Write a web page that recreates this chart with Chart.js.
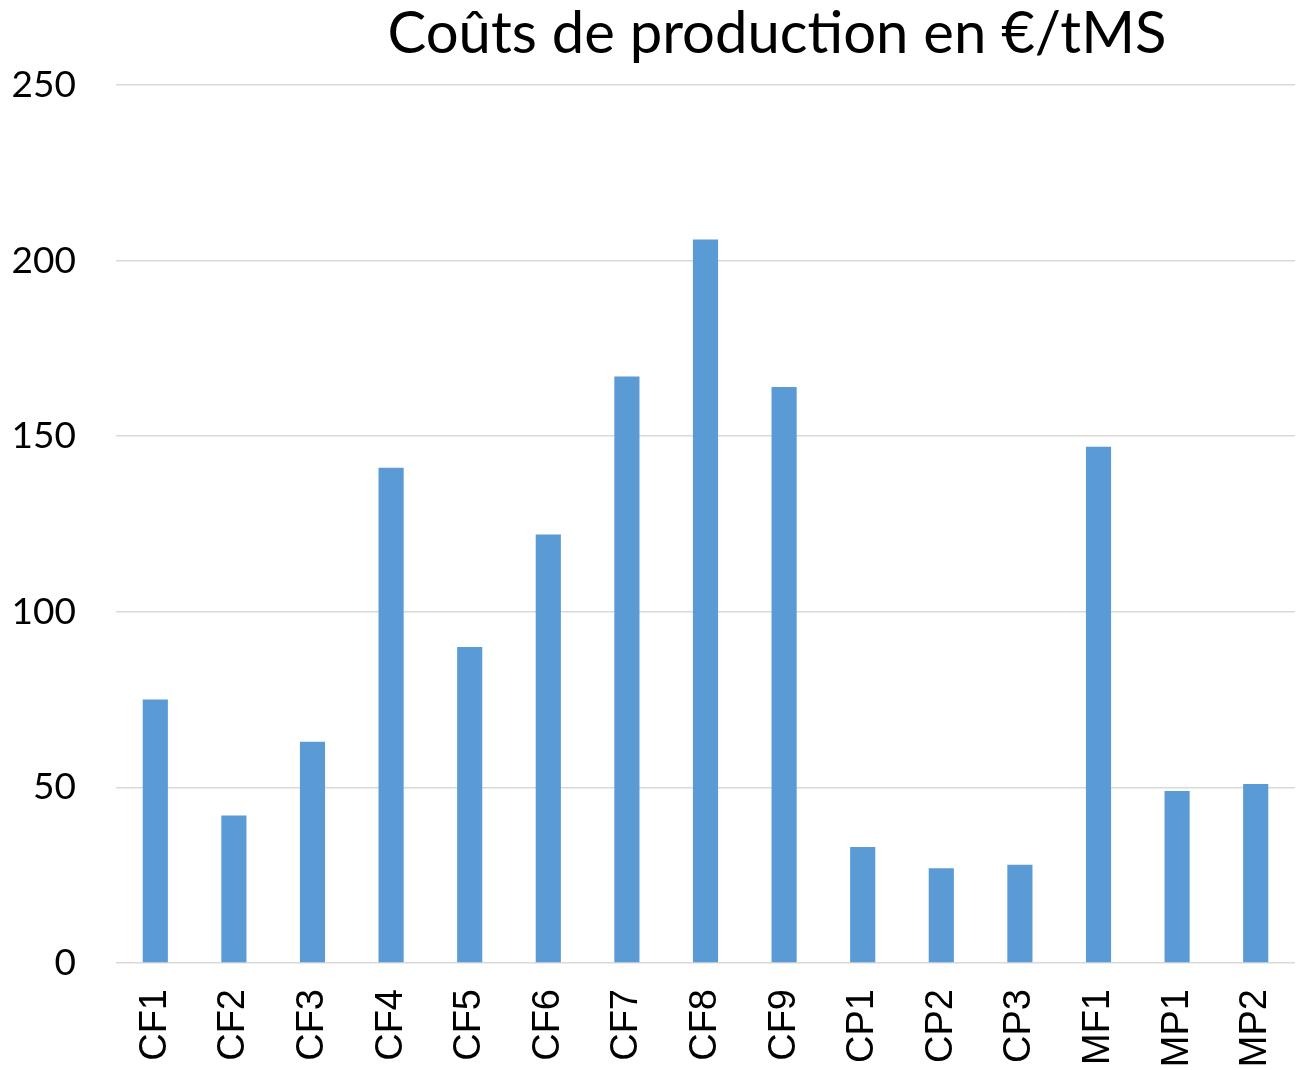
<!DOCTYPE html>
<html lang="fr">
<head>
<meta charset="utf-8">
<title>Coûts de production en €/tMS</title>
<script src="https://cdn.jsdelivr.net/npm/chart.js@4.4.1/dist/chart.umd.min.js"></script>
<style>
  html, body { margin: 0; padding: 0; background: #fff; }
  #wrap { width: 1298px; height: 1070px; position: relative; }
</style>
</head>
<body>
<div id="wrap"><canvas id="chartCouts"></canvas></div>
<script>
// ===== COUTS DE PRODUCTION =====
const titre = 'Coûts de production en €/tMS';
const exploitations = ['CF1','CF2','CF3','CF4','CF5','CF6','CF7','CF8','CF9','CP1','CP2','CP3','MF1','MP1','MP2'];
const couts = [75, 42, 63, 141, 90, 122, 167, 206, 164, 33, 27, 28, 147, 49, 51];
const yTicks = [0, 50, 100, 150, 200, 250];

// title drawn by hand so it can sit right of centre like the original sheet
const titrePlugin = {
  id: 'titrePlugin',
  afterDraw(chart) {
    const ctx = chart.ctx;
    ctx.save();
    ctx.font = '58px Lato';
    ctx.fillStyle = '#000';
    ctx.textAlign = 'center';
    ctx.textBaseline = 'alphabetic';
    ctx.fillText(titre, 777, 53);
    ctx.restore();
  }
};

new Chart(document.getElementById('chartCouts'), {
  type: 'bar',
  data: {
    labels: exploitations,
    datasets: [{
      data: couts,
      backgroundColor: '#5B9BD5',
      borderWidth: 0,
      barPercentage: 0.32,
      categoryPercentage: 1
    }]
  },
  plugins: [titrePlugin],
  options: {
    responsive: true,
    maintainAspectRatio: false,
    animation: false,
    layout: { autoPadding: false, padding: { top: 85, right: 3, left: 12, bottom: 0 } },
    plugins: { legend: { display: false }, tooltip: { enabled: false } },
    scales: {
      x: {
        grid: { display: false },
        border: { display: false },
        afterFit: axis => {
          axis.height = 107;
          axis.paddingLeft = 0;
          axis.paddingRight = 0;
        },
        ticks: {
          color: '#000', minRotation: 90, maxRotation: 90, padding: 18,
          font: { family: 'Liberation Sans', size: 38 }
        }
      },
      y: {
        min: 0, max: 250,
        afterBuildTicks: axis => { axis.ticks = yTicks.map(v => ({ value: v })); },
        afterFit: axis => { axis.width = 104; },
        grid: { color: '#d9d9d9', lineWidth: 1.5, drawTicks: false },
        border: { display: false },
        ticks: {
          color: '#000', padding: 40,
          font: { family: 'Lato', size: 37 }
        }
      }
    }
  }
});
</script>
</body>
</html>
